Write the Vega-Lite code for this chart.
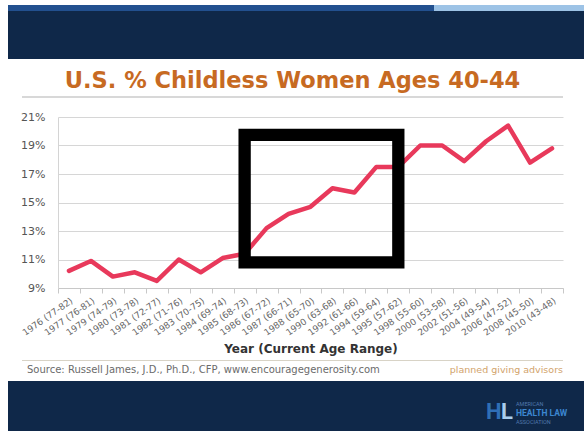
{
  "$schema": "https://vega.github.io/schema/vega-lite/v6.json",
  "background": "white",
  "padding": {"left": 8, "top": 5, "right": 0, "bottom": 0},
  "spacing": 0,
  "config": {
    "view": {"stroke": null},
    "font": "DejaVu Sans"
  },
  "datasets": {
    "stripe": [
      {"segment": "primary", "share": 426},
      {"segment": "accent", "share": 150}
    ],
    "childless": [
      {"year": "1976 (77-82)", "pct": 10.2},
      {"year": "1977 (76-81)", "pct": 10.9},
      {"year": "1979 (74-79)", "pct": 9.8},
      {"year": "1980 (73-78)", "pct": 10.1},
      {"year": "1981 (72-77)", "pct": 9.5},
      {"year": "1982 (71-76)", "pct": 11.0},
      {"year": "1983 (70-75)", "pct": 10.1},
      {"year": "1984 (69-74)", "pct": 11.1},
      {"year": "1985 (68-73)", "pct": 11.4},
      {"year": "1986 (67-72)", "pct": 13.2},
      {"year": "1987 (66-71)", "pct": 14.2},
      {"year": "1988 (65-70)", "pct": 14.7},
      {"year": "1990 (63-68)", "pct": 16.0},
      {"year": "1992 (61-66)", "pct": 15.7},
      {"year": "1994 (59-64)", "pct": 17.5},
      {"year": "1995 (57-62)", "pct": 17.5},
      {"year": "1998 (55-60)", "pct": 19.0},
      {"year": "2000 (53-58)", "pct": 19.0},
      {"year": "2002 (51-56)", "pct": 17.9},
      {"year": "2004 (49-54)", "pct": 19.3},
      {"year": "2006 (47-52)", "pct": 20.4},
      {"year": "2008 (45-50)", "pct": 17.8},
      {"year": "2010 (43-48)", "pct": 18.8}
    ],
    "highlight": [
      {"year": "1985 (68-73)", "pct": 19.75, "corner": 1},
      {"year": "1995 (57-62)", "pct": 19.75, "corner": 2},
      {"year": "1995 (57-62)", "pct": 10.8, "corner": 3},
      {"year": "1985 (68-73)", "pct": 10.8, "corner": 4},
      {"year": "1985 (68-73)", "pct": 19.75, "corner": 5}
    ]
  },
  "vconcat": [
    {
      "width": 576,
      "height": 6,
      "data": {"name": "stripe"},
      "mark": "bar",
      "encoding": {
        "x": {"field": "share", "type": "quantitative", "stack": "normalize", "axis": null},
        "y": {"datum": "stripe", "type": "nominal", "axis": null, "scale": {"paddingInner": 0, "paddingOuter": 0}},
        "color": {
          "field": "segment", "type": "nominal",
          "scale": {"domain": ["primary", "accent"], "range": ["#22508f", "#9dc3e6"]},
          "legend": null
        },
        "order": {"field": "segment", "sort": "descending"}
      }
    },
    {
      "width": 576,
      "height": 48,
      "view": {"fill": "#0f2849"},
      "data": {"values": [{}]},
      "mark": {"type": "point", "size": 0, "opacity": 0, "strokeWidth": 0},
      "encoding": {
        "x": {
          "datum": 0, "type": "quantitative", "scale": {"domain": [0, 1]},
          "axis": {"orient": "bottom", "domain": false, "ticks": false, "labels": false, "grid": false, "title": null, "minExtent": 10, "maxExtent": 10}
        }
      }
    },
    {
      "spacing": 0,
      "hconcat": [
        {
          "width": 14,
          "height": 2,
          "data": {"values": [{}]},
          "mark": {"type": "point", "size": 0, "opacity": 0, "strokeWidth": 0}
        },
        {
          "width": 541,
          "height": 2,
          "view": {"fill": "#d8d8d8"},
          "title": {
            "text": "U.S. % Childless Women Ages 40-44",
            "font": "DejaVu Sans", "fontSize": 22.5, "fontWeight": "bold",
            "color": "#c76a22", "anchor": "middle", "frame": "group", "offset": 4
          },
          "data": {"values": [{}]},
          "mark": {"type": "point", "size": 0, "opacity": 0, "strokeWidth": 0},
          "encoding": {
            "x": {
              "datum": 0, "type": "quantitative", "scale": {"domain": [0, 1]},
              "axis": {"orient": "bottom", "domain": false, "ticks": false, "labels": false, "grid": false, "title": null, "minExtent": 12, "maxExtent": 12}
            }
          }
        }
      ]
    },
    {
      "spacing": 0,
      "hconcat": [
        {
          "width": 1,
          "height": 171,
          "data": {"values": [{}]},
          "mark": {"type": "point", "size": 0, "opacity": 0, "strokeWidth": 0}
        },
        {
          "width": 505,
          "height": 171,
          "layer": [
            {
              "data": {"name": "childless"},
              "mark": {"type": "line", "color": "#e8395b", "strokeWidth": 4.5, "strokeJoin": "round", "strokeCap": "round"},
              "encoding": {
                "x": {
                  "field": "year", "type": "nominal",
                  "scale": {
                    "type": "band", "paddingInner": 0, "paddingOuter": 0,
                    "domain": ["1976 (77-82)", "1977 (76-81)", "1979 (74-79)", "1980 (73-78)", "1981 (72-77)", "1982 (71-76)", "1983 (70-75)", "1984 (69-74)", "1985 (68-73)", "1986 (67-72)", "1987 (66-71)", "1988 (65-70)", "1990 (63-68)", "1992 (61-66)", "1994 (59-64)", "1995 (57-62)", "1998 (55-60)", "2000 (53-58)", "2002 (51-56)", "2004 (49-54)", "2006 (47-52)", "2008 (45-50)", "2010 (43-48)"]
                  },
                  "axis": {
                    "title": "Year (Current Age Range)",
                    "titleFont": "DejaVu Sans", "titleFontSize": 12, "titleFontWeight": "bold", "titleColor": "#333333", "titlePadding": 6,
                    "labelAngle": -35, "labelFont": "DejaVu Sans", "labelFontSize": 9, "labelColor": "#666666", "labelPadding": 3, "labelOverlap": false,
                    "tickBand": "extent", "tickSize": 5, "tickColor": "#c8c8c8", "domainColor": "#c8c8c8", "grid": false
                  }
                },
                "y": {
                  "field": "pct", "type": "quantitative",
                  "scale": {"domain": [9, 21], "nice": false, "zero": false},
                  "axis": {
                    "title": null, "values": [9, 11, 13, 15, 17, 19, 21], "tickCount": 12, "labelExpr": "datum.value + '%'",
                    "labelFont": "DejaVu Sans", "labelFontSize": 11, "labelColor": "#555555", "labelPadding": 13, "labelOverlap": false,
                    "ticks": false, "domain": true, "domainColor": "#d4d4d4", "grid": true, "gridColor": "#d6d6d6",
                    "minExtent": 49, "maxExtent": 49
                  }
                }
              }
            },
            {
              "data": {"name": "highlight"},
              "mark": {"type": "line", "color": "#000000", "strokeWidth": 12.3, "strokeJoin": "miter", "strokeCap": "square"},
              "encoding": {
                "x": {"field": "year", "type": "nominal"},
                "y": {"field": "pct", "type": "quantitative"},
                "order": {"field": "corner", "type": "quantitative"}
              }
            }
          ]
        }
      ]
    },
    {
      "spacing": 0,
      "hconcat": [
        {
          "width": 14,
          "height": 1,
          "data": {"values": [{}]},
          "mark": {"type": "point", "size": 0, "opacity": 0, "strokeWidth": 0}
        },
        {
          "width": 541,
          "height": 1,
          "view": {"fill": "#d8d3c6"},
          "data": {"values": [{"source": "Source: Russell James, J.D., Ph.D., CFP, www.encouragegenerosity.com", "brand": "planned giving advisors"}]},
          "layer": [
            {
              "mark": {"type": "text", "align": "left", "baseline": "top", "dx": 5, "dy": 4, "fontSize": 10, "color": "#6b6b6b"},
              "encoding": {
                "text": {"field": "source"},
                "x": {
                  "datum": 0, "type": "quantitative", "scale": {"domain": [0, 1]},
                  "axis": {"orient": "top", "domain": false, "ticks": false, "labels": false, "grid": false, "title": null, "minExtent": 5, "maxExtent": 5}
                },
                "y": {"datum": 0, "type": "quantitative", "scale": {"domain": [0, 1]}, "axis": null}
              }
            },
            {
              "mark": {"type": "text", "align": "right", "baseline": "top", "dy": 4, "fontSize": 9.5, "color": "#d2a36b"},
              "encoding": {
                "text": {"field": "brand"},
                "x": {"datum": 1, "type": "quantitative"},
                "y": {"datum": 0, "type": "quantitative"}
              }
            }
          ]
        }
      ]
    },
    {
      "width": 576,
      "height": 51,
      "view": {"fill": "#0f2849"},
      "layer": [
        {
          "data": {"values": [{"glyph": "H"}]},
          "mark": {"type": "text", "align": "left", "baseline": "middle", "dx": -98, "dy": 31, "font": "Roboto", "fontSize": 22, "fontWeight": "bold", "color": "#2f6fb6"},
          "encoding": {
            "text": {"field": "glyph"},
            "x": {
              "datum": 1, "type": "quantitative", "scale": {"domain": [0, 1]},
              "axis": {"orient": "top", "domain": false, "ticks": false, "labels": false, "grid": false, "title": null, "minExtent": 6, "maxExtent": 6}
            },
            "y": {"datum": 1, "type": "quantitative", "scale": {"domain": [0, 1]}, "axis": null}
          }
        },
        {
          "data": {"values": [{"glyph": "L"}]},
          "mark": {"type": "text", "align": "left", "baseline": "middle", "dx": -83, "dy": 31, "font": "Roboto", "fontSize": 22, "fontWeight": "bold", "color": "#a8cdee"},
          "encoding": {
            "text": {"field": "glyph"},
            "x": {"datum": 1, "type": "quantitative"},
            "y": {"datum": 1, "type": "quantitative"}
          }
        },
        {
          "data": {"values": [{"word": "AMERICAN"}]},
          "mark": {"type": "text", "align": "left", "baseline": "middle", "dx": -68, "dy": 23, "font": "Roboto", "fontSize": 5.5, "color": "#4f78ad"},
          "encoding": {
            "text": {"field": "word"},
            "x": {"datum": 1, "type": "quantitative"},
            "y": {"datum": 1, "type": "quantitative"}
          }
        },
        {
          "data": {"values": [{"word": "HEALTH LAW"}]},
          "mark": {"type": "text", "align": "left", "baseline": "middle", "dx": -68, "dy": 32, "font": "Roboto", "fontSize": 8.5, "fontWeight": "bold", "color": "#3c86d0"},
          "encoding": {
            "text": {"field": "word"},
            "x": {"datum": 1, "type": "quantitative"},
            "y": {"datum": 1, "type": "quantitative"}
          }
        },
        {
          "data": {"values": [{"word": "ASSOCIATION"}]},
          "mark": {"type": "text", "align": "left", "baseline": "middle", "dx": -68, "dy": 41, "font": "Roboto", "fontSize": 5.5, "color": "#4f78ad"},
          "encoding": {
            "text": {"field": "word"},
            "x": {"datum": 1, "type": "quantitative"},
            "y": {"datum": 1, "type": "quantitative"}
          }
        }
      ]
    }
  ]
}
